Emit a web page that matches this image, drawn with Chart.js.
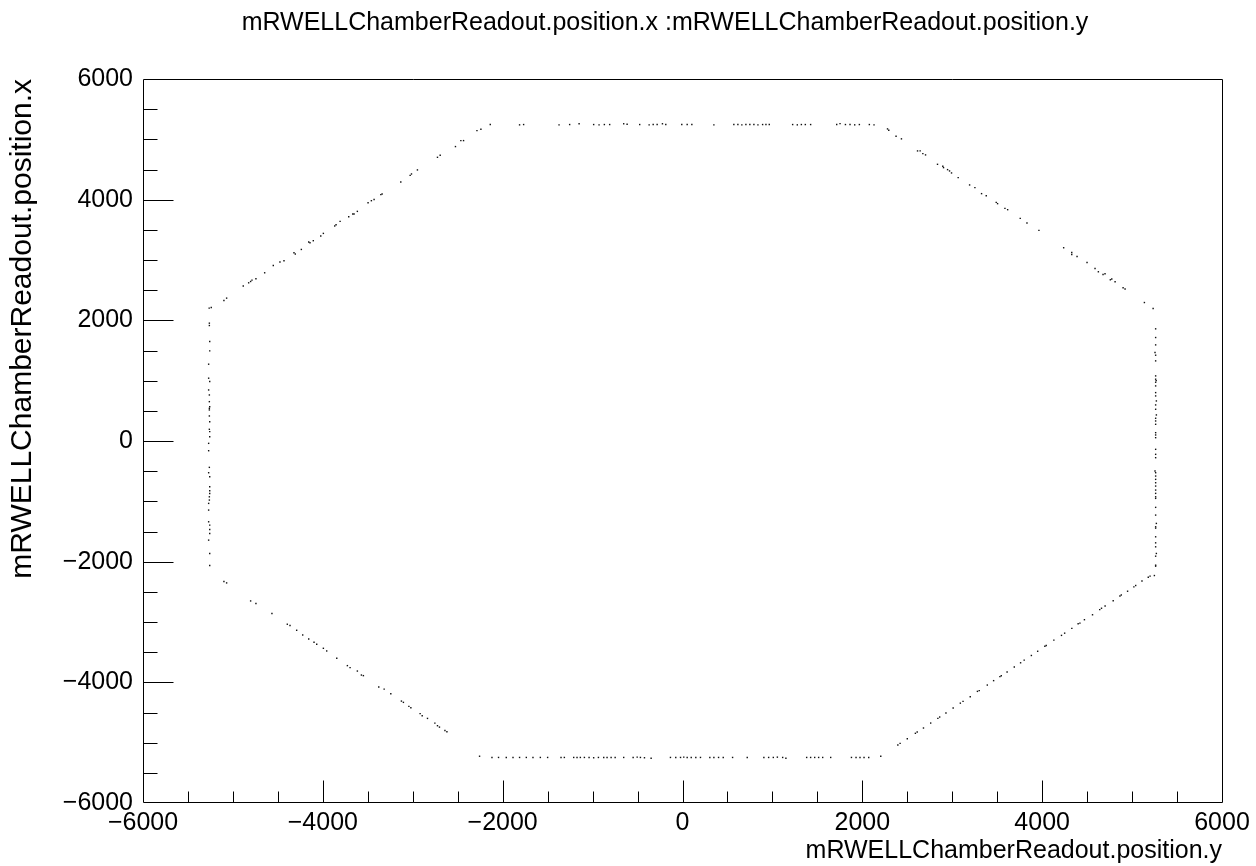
<!DOCTYPE html>
<html>
<head>
<meta charset="utf-8">
<script src="https://cdn.jsdelivr.net/npm/chart.js@4.4.1/dist/chart.umd.min.js"></script>
<style>
  html, body { margin: 0; padding: 0; background: #ffffff; }
  #wrap { width: 1256px; height: 866px; position: relative; }
  canvas { display: block; }
</style>
</head>
<body>
<div id="wrap"><canvas id="c" width="1256" height="866"></canvas></div>
<script>
// ---------------- data ----------------
const chartTitle = 'mRWELLChamberReadout.position.x :mRWELLChamberReadout.position.y';
const xAxisTitle = 'mRWELLChamberReadout.position.y';
const yAxisTitle = 'mRWELLChamberReadout.position.x';

const xTickValues = [-6000, -4000, -2000, 0, 2000, 4000, 6000];
const xTickLabels = ['\u22126000', '\u22124000', '\u22122000', '0', '2000', '4000', '6000'];
const yTickValues = [-6000, -4000, -2000, 0, 2000, 4000, 6000];
const yTickLabels = ['\u22126000', '\u22124000', '\u22122000', '0', '2000', '4000', '6000'];

// points as [position.y, position.x]
const topEdge = [
  [-2138,5245],[-1812,5240],[-1767,5245],[-1373,5240],[-1255,5245],[-1150,5258],[-988,5245],[-928,5240],
  [-869,5245],[-810,5245],[-654,5258],[-616,5250],[-476,5245],[-371,5240],[-326,5245],[-282,5245],
  [-223,5258],[-186,5245],[-8,5245],[52,5245],[104,5245],[349,5240],[571,5245],[616,5245],[660,5240],
  [705,5245],[749,5245],[794,5245],[839,5240],[891,5245],[928,5245],[965,5245],[1225,5245],[1277,5240],
  [1322,5245],[1366,5245],[1425,5245],[1715,5245],[1752,5260],[1812,5245],[1863,5245],[1915,5240],
  [1967,5245],[2078,5245],[2130,5240]
];
const bottomEdge = [
  [-2257,-5225],[-2119,-5245],[-2046,-5245],[-1960,-5245],[-1885,-5245],[-1812,-5245],[-1737,-5245],
  [-1663,-5245],[-1581,-5245],[-1500,-5245],[-1351,-5245],[-1314,-5245],[-1210,-5245],[-1173,-5245],
  [-1136,-5245],[-1091,-5245],[-1039,-5245],[-988,-5250],[-935,-5245],[-876,-5245],[-839,-5245],
  [-794,-5245],[-749,-5245],[-654,-5245],[-549,-5245],[-504,-5240],[-468,-5245],[-423,-5250],
  [-349,-5258],[-134,-5245],[-75,-5245],[-22,-5245],[14,-5240],[52,-5245],[97,-5245],[148,-5245],
  [200,-5245],[304,-5245],[349,-5245],[401,-5245],[453,-5245],[557,-5245],[720,-5245],[905,-5245],
  [958,-5245],[1010,-5245],[1055,-5240],[1114,-5245],[1150,-5258],[1381,-5245],[1425,-5245],
  [1470,-5245],[1514,-5245],[1559,-5245],[1648,-5245],[1879,-5245],[1930,-5245],[1974,-5245],
  [2019,-5245],[2071,-5245],[2205,-5225]
];
const rightEdge = [
  [5262,1859],[5262,1715],[5262,1593],[5255,1466],[5262,1422],[5262,1328],[5262,1079],[5262,1024],
  [5268,1001],[5262,974],[5262,913],[5262,802],[5262,747],[5270,664],[5262,598],[5262,526],
  [5270,432],[5262,377],[5262,332],[5262,277],[5262,138],[5262,100],[5262,55],[5262,-138],
  [5262,-221],[5262,-277],[5255,-498],[5262,-526],[5262,-581],[5262,-636],[5262,-692],[5262,-747],
  [5262,-813],[5262,-868],[5262,-925],[5262,-951],[5262,-1100],[5262,-1228],[5270,-1366],[5262,-1422],
  [5262,-1444],[5262,-1588],[5262,-1688],[5262,-1754],[5270,-1864],[5262,-1909],[5262,-2058],
  [5262,-2075],[5248,-2230]
];
const leftEdge = [
  [-5264,2202],[-5262,1953],[-5262,1914],[-5258,1649],[-5258,1494],[-5270,1273],[-5270,1041],[-5258,985],
  [-5270,846],[-5262,763],[-5262,652],[-5258,569],[-5262,542],[-5262,515],[-5262,415],[-5258,320],
  [-5262,194],[-5258,155],[-5258,71],[-5270,-39],[-5270,-161],[-5262,-437],[-5270,-526],[-5258,-592],
  [-5258,-759],[-5258,-825],[-5258,-869],[-5262,-925],[-5262,-979],[-5270,-1034],[-5270,-1145],
  [-5270,-1339],[-5258,-1394],[-5258,-1466],[-5258,-1533],[-5270,-1643],[-5258,-1864],[-5258,-2063]
];
const upperLeftDiag = [
  [-5241,2212],[-5100,2329],[-5070,2368],[-4885,2568],[-4825,2622],[-4803,2644],[-4788,2667],[-4744,2689],
  [-4647,2788],[-4551,2910],[-4477,2966],[-4432,2988],[-4321,3120],[-4306,3099],[-4239,3175],[-4157,3298],
  [-4143,3286],[-4106,3320],[-4023,3398],[-3994,3441],[-3868,3564],[-3853,3585],[-3808,3640],[-3712,3718],
  [-3667,3763],[-3653,3763],[-3616,3806],[-3497,3950],[-3460,3983],[-3430,4004],[-3355,4083],[-3341,4095],
  [-3133,4294],[-3029,4403],[-3014,4426],[-2948,4493],[-2725,4702],[-2695,4735],[-2525,4880],[-2465,4979],
  [-2435,4979],[-2286,5145],[-2242,5167]
];
const lowerLeftDiag = [
  [-5100,-2329],[-5070,-2352],[-4803,-2651],[-4744,-2694],[-4566,-2860],[-4395,-3037],[-4365,-3059],
  [-4291,-3137],[-4224,-3215],[-4157,-3281],[-4098,-3336],[-4068,-3369],[-3994,-3436],[-3957,-3480],
  [-3845,-3602],[-3727,-3723],[-3697,-3756],[-3616,-3813],[-3571,-3879],[-3549,-3889],[-3378,-4078],
  [-3318,-4112],[-3244,-4188],[-3126,-4311],[-3104,-4332],[-3043,-4398],[-3021,-4420],[-2918,-4519],
  [-2895,-4553],[-2836,-4598],[-2754,-4676],[-2725,-4719],[-2703,-4742],[-2642,-4797],[-2620,-4818]
];
const upperRightDiag = [
  [2280,5173],[2294,5150],[2375,5051],[2435,5008],[2614,4808],[2643,4808],[2673,4763],[2703,4742],
  [2836,4586],[2895,4553],[2903,4531],[2948,4498],[2970,4476],[2992,4443],[3066,4365],[3193,4244],
  [3252,4199],[3326,4100],[3378,4066],[3489,3955],[3504,3934],[3586,3856],[3616,3834],[3756,3690],
  [3831,3614],[3964,3491],[4239,3203],[4329,3125],[4329,3092],[4388,3059],[4499,2959],[4588,2860],
  [4625,2805],[4677,2760],[4699,2772],[4758,2672],[4774,2684],[4811,2639],[4900,2539],[4922,2518],
  [5137,2295],[5234,2196]
];
const lowerRightDiag = [
  [5200,-2240],[5180,-2258],[5110,-2320],[5040,-2395],[5020,-2418],[4950,-2490],[4880,-2552],[4865,-2570],
  [4790,-2648],[4700,-2735],[4660,-2772],[4640,-2795],[4560,-2880],[4470,-2962],[4420,-3018],[4400,-3030],
  [4330,-3105],[4250,-3185],[4215,-3222],[4130,-3300],[4045,-3390],[4030,-3402],[3950,-3485],[3880,-3555],
  [3800,-3632],[3760,-3676],[3690,-3745],[3610,-3828],[3545,-3890],[3530,-3905],[3460,-3972],[3390,-4045],
  [3300,-4138],[3280,-4150],[3200,-4238],[3120,-4315],[3090,-4345],[3010,-4425],[2930,-4508],[2860,-4575],
  [2840,-4598],[2760,-4675],[2680,-4757],[2610,-4823],[2590,-4845],[2500,-4935],[2420,-5012],[2395,-5040]
];

// ---------------- chart ----------------
const FONT = '"Liberation Sans", Arial, Helvetica, sans-serif';
const allPoints = [].concat(topEdge, bottomEdge, rightEdge, leftEdge,
  upperLeftDiag, lowerLeftDiag, upperRightDiag, lowerRightDiag).map(p => ({x: p[0], y: p[1]}));

const rootFrame = {
  id: 'rootFrame',
  afterDatasetsDraw(chart) {
    const {ctx, chartArea: a, scales: {x, y}} = chart;
    ctx.save();
    ctx.strokeStyle = '#000';
    ctx.lineWidth = 1;
    ctx.beginPath();
    ctx.rect(a.left + 0.5, a.top + 0.5, a.right - a.left, a.bottom - a.top - 1);
    ctx.stroke();
    ctx.beginPath();
    for (let v = x.min + 500; v < x.max; v += 500) {
      const px = Math.round(x.getPixelForValue(v)) + 0.5;
      const len = (v % 2000 === 0) ? 22 : 11;
      ctx.moveTo(px, a.bottom - 0.5);
      ctx.lineTo(px, a.bottom - 0.5 - len);
    }
    for (let v = y.min + 500; v < y.max; v += 500) {
      const py = Math.round(y.getPixelForValue(v)) + 0.5;
      const len = (v % 2000 === 0) ? 30 : 14;
      ctx.moveTo(a.left + 0.5, py);
      ctx.lineTo(a.left + 0.5 + len, py);
    }
    ctx.stroke();
    // main title
    ctx.fillStyle = '#000';
    ctx.font = '25px ' + FONT;
    ctx.textAlign = 'center';
    ctx.textBaseline = 'alphabetic';
    ctx.fillText(chartTitle, 665, 29.5);
    ctx.restore();
  }
};

new Chart(document.getElementById('c'), {
  type: 'scatter',
  data: {
    datasets: [{
      label: 'points',
      data: allPoints,
      pointStyle: 'rect',
      pointRadius: 1,
      pointBorderWidth: 0,
      backgroundColor: '#111111',
      borderColor: '#111111',
      showLine: false
    }]
  },
  options: {
    responsive: false,
    devicePixelRatio: 1,
    animation: false,
    events: [],
    layout: { padding: { left: 0, right: 34, top: 79, bottom: 0 } },
    plugins: {
      legend: { display: false },
      title: { display: false },
      tooltip: { enabled: false }
    },
    scales: {
      x: {
        type: 'linear',
        position: 'bottom',
        min: -6000, max: 6000,
        afterBuildTicks: s => { s.ticks = xTickValues.map(v => ({value: v})); },
        afterFit: s => { s.height = 63; },
        grid: { display: false, drawTicks: false },
        border: { display: false },
        ticks: {
          autoSkip: false, maxRotation: 0, padding: 5,
          color: '#000',
          font: { family: FONT, size: 25 },
          callback: (v, i) => xTickLabels[i]
        },
        title: {
          display: true, text: xAxisTitle, align: 'end',
          color: '#000', font: { family: FONT, size: 25 },
          padding: { top: 0, bottom: 0 }
        }
      },
      y: {
        type: 'linear',
        position: 'left',
        min: -6000, max: 6000,
        afterBuildTicks: s => { s.ticks = yTickValues.map(v => ({value: v})); },
        afterFit: s => { s.width = 143; },
        grid: { display: false, drawTicks: false },
        border: { display: false },
        ticks: {
          autoSkip: false, padding: 10,
          color: '#000',
          font: { family: FONT, size: 25 },
          callback: (v, i) => yTickLabels[i]
        },
        title: {
          display: true, text: yAxisTitle, align: 'end',
          color: '#000', font: { family: FONT, size: 30 },
          padding: { top: 5, bottom: 0 }
        }
      }
    }
  },
  plugins: [rootFrame]
});
</script>
</body>
</html>
